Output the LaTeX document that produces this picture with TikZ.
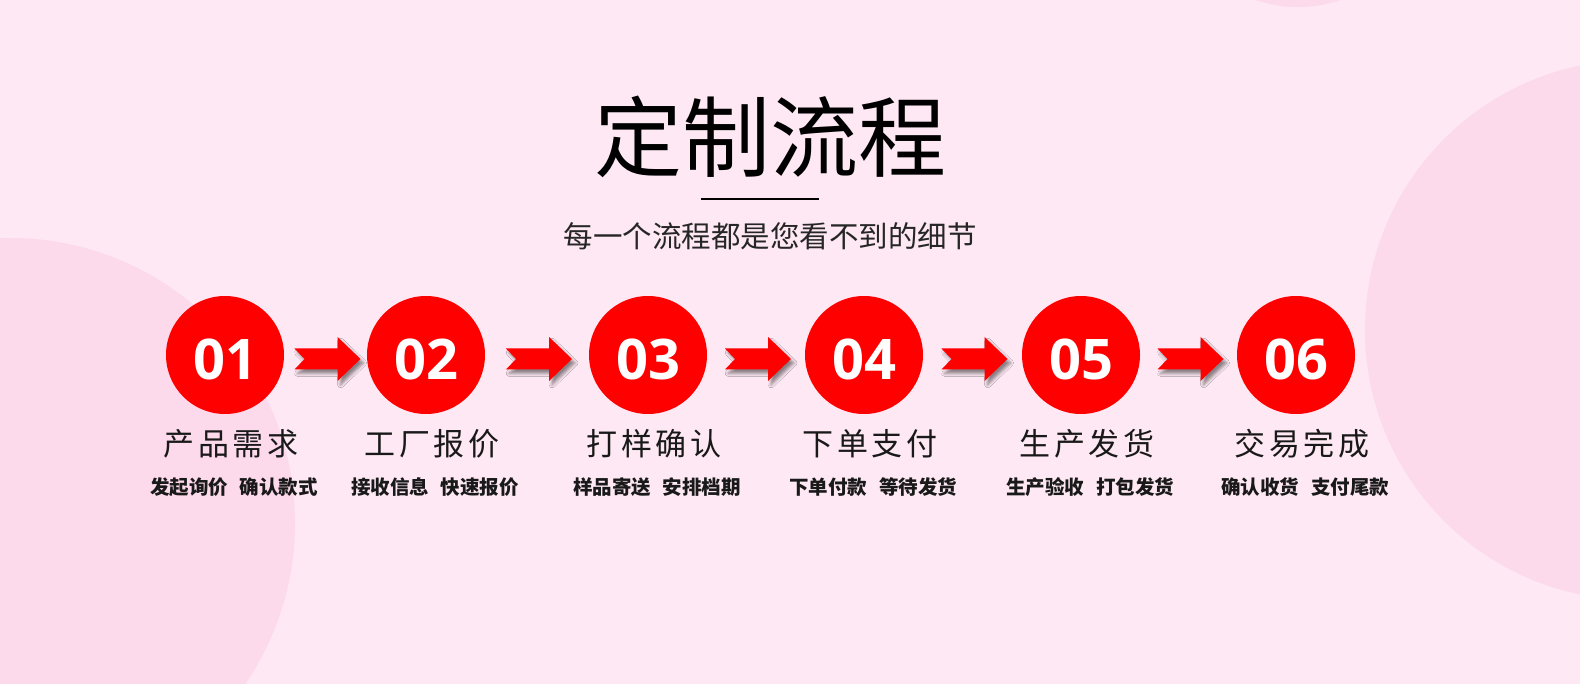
\documentclass[tikz,border=0pt]{standalone}
\usepackage{fontspec}
\setmainfont{Liberation Serif}
\newfontfamily\cjk{Noto Sans CJK SC}
\newfontfamily\cjkspaced[LetterSpace=12]{Noto Sans CJK SC}
\newfontfamily\numfont{Open Sans}
\usetikzlibrary{calc,positioning,shadows.blur}

\definecolor{bgpink}{RGB}{253,232,243}
\definecolor{blobpink}{RGB}{252,217,235}
\definecolor{stepred}{RGB}{255,0,0}

\begin{document}
\begin{tikzpicture}[x=1pt,y=-1pt]
  \tikzstyle{numdisc}=[circle,fill=stepred,minimum size=118pt,inner sep=0pt,text=white,
    text height=50pt,text depth=0pt,font=\numfont\bfseries\fontsize{56}{56}\selectfont]
  \tikzstyle{steptitle}=[inner sep=0pt,text=black!90,font=\cjkspaced\fontsize{31}{31}\selectfont]
  \tikzstyle{stepnote}=[inner sep=0pt,text=black!90,font=\cjk\bfseries\fontsize{19.5}{19.5}\selectfont]
  \tikzstyle{flowarrow}=[fill=stepred,blur shadow={shadow xshift=3pt,shadow yshift=-4pt,
    shadow blur radius=3pt,shadow opacity=45}]

  % background with the pale discs
  \useasboundingbox (0,0) rectangle (1580,684);
  \fill[bgpink] (0,0) rectangle (1580,684);
  \begin{scope}
    \clip (0,0) rectangle (1580,684);
    \fill[blobpink] (10,523) circle (285pt);
    \fill[blobpink] (1635,330) circle (270pt);
    \fill[blobpink] (1298,-123) circle (130pt);
  \end{scope}

  % heading
  \node[inner sep=0pt,font=\cjk\fontsize{88}{88}\selectfont] (title) at (770,137) {定制流程};
  \coordinate (rule-l) at (701,199);
  \coordinate (rule-r) at (819,199);
  \draw[line width=1.6pt] (rule-l) -- (rule-r);
  \node[inner sep=0pt,text=black!85,font=\cjk\fontsize{29.5}{29.5}\selectfont] (subtitle) at (770,236) {每一个流程都是您看不到的细节};

  \foreach \name/\x/\num in {C-1/225/01, C-2/426/02, C-3/648/03, C-4/864/04, C-5/1081/05, C-6/1296/06}
    \node[numdisc] (\name) at (\x,355) {\num};

  \foreach \from/\to in {1/2,2/3,3/4,4/5,5/6}
    \fill[flowarrow,shift={($(C-\from.east)!0.5!(C-\to.west)+(2,4)$)}]
      (-33,-10.5) -- (10,-10.5) -- (10,-22) -- (33,0) -- (10,22) -- (10,10.5) -- (-33,10.5) -- (-23,0) -- cycle;

  \foreach \i/\head/\noteA/\noteB in {1/产品需求/发起询价/确认款式, 2/工厂报价/接收信息/快速报价,
      3/打样确认/样品寄送/安排档期, 4/下单支付/下单付款/等待发货, 5/生产发货/生产验收/打包发货,
      6/交易完成/确认收货/支付尾款}
  {
    \node[steptitle,xshift=6pt] (T-\i) at ($(C-\i)+(0,89)$) {\head};
    \node[stepnote,xshift=9pt] (N-\i) at ($(C-\i)+(0,132)$) {\noteA\hspace{12pt}\noteB};
  }
\end{tikzpicture}
\end{document}
